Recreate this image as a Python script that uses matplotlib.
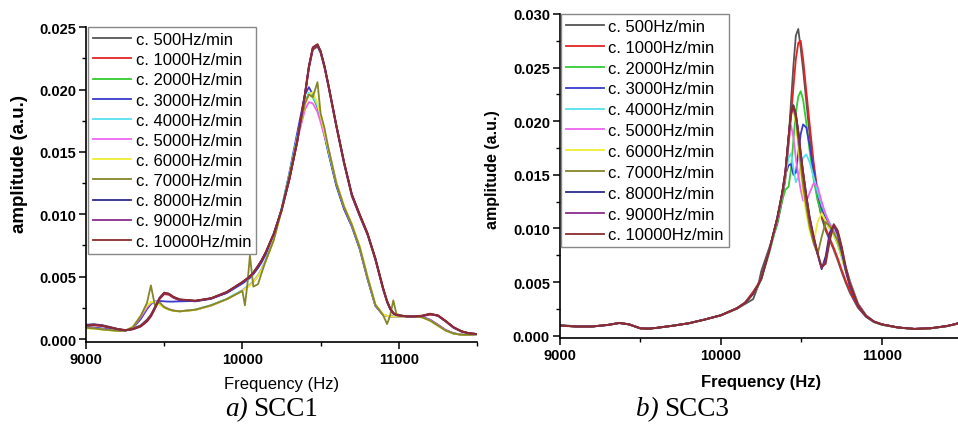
import matplotlib
matplotlib.use("Agg")
import matplotlib.pyplot as plt
from matplotlib.ticker import MultipleLocator, FormatStrFormatter

plt.rcParams['font.family'] = ['Liberation Sans', 'DejaVu Sans']

labels = ['c. 500Hz/min', 'c. 1000Hz/min', 'c. 2000Hz/min', 'c. 3000Hz/min',
          'c. 4000Hz/min', 'c. 5000Hz/min', 'c. 6000Hz/min', 'c. 7000Hz/min',
          'c. 8000Hz/min', 'c. 9000Hz/min', 'c. 10000Hz/min']
colors = ['#555555', '#e02424', '#33cc33', '#3a3ad0', '#55e0ee', '#ee66ee',
          '#eeee33', '#85852a', '#2c2c8c', '#8c2c8c', '#8c2c2c']

# ---- SCC1 (left), amplitude in 1e-3 a.u.
freq1 = [9000, 9050, 9100, 9150, 9200, 9250, 9300, 9350, 9390, 9415,
         9440, 9470, 9500, 9530, 9560, 9600, 9700, 9800, 9900, 10000,
         10016, 10032, 10048, 10070, 10100, 10123, 10150, 10200, 10250, 10300,
         10350, 10400, 10425, 10450, 10480, 10500, 10525, 10550, 10600, 10650,
         10700, 10750, 10800, 10850, 10900, 10925, 10945, 10965, 10985, 11050,
         11100, 11150, 11200, 11250, 11300, 11350, 11400, 11450, 11500]

scc1_500 = [1.15, 1.18, 1.12, 0.98, 0.82, 0.72, 0.82, 1.10, 1.55, 1.95,
            2.55, 3.25, 3.65, 3.58, 3.32, 3.12, 3.02, 3.22, 3.72, 4.52,
            4.68, 4.82, 4.98, 5.28, 5.82, 6.28, 6.92, 8.38, 10.28, 12.78,
            15.78, 19.55, 21.75, 23.20, 23.45, 22.95, 21.75, 20.25, 17.05, 14.05,
            11.45, 9.85, 8.35, 6.35, 3.95, 2.95, 2.38, 2.02, 1.88, 1.80,
            1.80, 1.83, 1.98, 1.88, 1.42, 0.92, 0.60, 0.45, 0.40]
scc1_1000 = [1.05, 1.10, 1.05, 0.92, 0.78, 0.70, 0.78, 1.00, 1.40, 1.80,
             2.40, 3.20, 3.60, 3.55, 3.30, 3.10, 3.05, 3.25, 3.70, 4.50,
             4.65, 4.80, 4.95, 5.25, 5.80, 6.25, 6.90, 8.35, 10.25, 12.75,
             15.75, 19.50, 21.70, 23.25, 23.60, 23.10, 21.90, 20.40, 17.20, 14.20,
             11.60, 10.00, 8.50, 6.50, 4.10, 3.05, 2.45, 2.10, 1.90, 1.80,
             1.80, 1.85, 1.95, 1.90, 1.45, 0.95, 0.62, 0.45, 0.40]
scc1_2000 = [0.90, 0.85, 0.78, 0.72, 0.66, 0.65, 0.95, 1.80, 2.60, 2.95,
             3.00, 2.80, 2.55, 2.38, 2.27, 2.22, 2.35, 2.70, 3.20, 3.90,
             4.05, 4.20, 4.35, 4.60, 5.10, 5.60, 6.30, 8.10, 10.40, 13.20,
             16.20, 18.90, 19.70, 19.40, 18.60, 17.70, 16.40, 15.00, 12.40, 10.50,
             9.10, 7.30, 4.90, 2.70, 1.95, 1.85, 1.80, 1.80, 1.80, 1.80,
             1.80, 1.75, 1.50, 1.10, 0.70, 0.45, 0.35, 0.33, 0.38]
scc1_3000 = [0.95, 0.92, 0.85, 0.78, 0.70, 0.66, 0.88, 1.60, 2.40, 2.80,
             3.00, 3.05, 3.02, 3.00, 3.00, 3.02, 3.05, 3.25, 3.70, 4.45,
             4.60, 4.75, 4.90, 5.20, 5.70, 6.15, 6.80, 8.30, 10.40, 13.30,
             16.50, 19.60, 20.20, 19.60, 18.60, 17.60, 16.30, 14.90, 12.30, 10.40,
             9.00, 7.20, 4.80, 2.65, 1.92, 1.84, 1.80, 1.80, 1.80, 1.80,
             1.80, 1.78, 1.55, 1.15, 0.72, 0.46, 0.35, 0.33, 0.38]
scc1_4000 = [0.88, 0.84, 0.77, 0.71, 0.66, 0.66, 0.98, 1.85, 2.62, 2.92,
             2.96, 2.78, 2.52, 2.36, 2.26, 2.22, 2.36, 2.72, 3.22, 3.92,
             4.08, 4.22, 4.38, 4.62, 5.12, 5.62, 6.35, 8.15, 10.45, 13.25,
             16.20, 18.95, 19.75, 19.50, 18.70, 17.80, 16.50, 15.10, 12.50, 10.60,
             9.15, 7.40, 5.00, 2.75, 1.96, 1.85, 1.80, 1.80, 1.80, 1.80,
             1.80, 1.74, 1.48, 1.08, 0.68, 0.44, 0.34, 0.33, 0.38]
scc1_5000 = [0.92, 0.86, 0.79, 0.73, 0.67, 0.64, 0.92, 1.75, 2.55, 2.90,
             2.98, 2.82, 2.58, 2.40, 2.28, 2.23, 2.34, 2.68, 3.18, 3.88,
             4.03, 4.18, 4.33, 4.58, 5.08, 5.58, 6.28, 8.05, 10.30, 13.00,
             15.90, 18.40, 19.00, 18.90, 18.20, 17.40, 16.30, 15.30, 12.60, 10.60,
             9.15, 7.35, 4.95, 2.72, 1.95, 1.85, 1.80, 1.80, 1.80, 1.80,
             1.80, 1.76, 1.52, 1.12, 0.71, 0.45, 0.35, 0.33, 0.38]
scc1_6000 = [0.86, 0.82, 0.76, 0.70, 0.65, 0.66, 1.00, 1.90, 2.68, 2.96,
             2.98, 2.76, 2.50, 2.34, 2.25, 2.21, 2.33, 2.68, 3.18, 3.86,
             4.00, 4.15, 4.30, 4.55, 5.05, 5.55, 6.22, 7.95, 10.20, 13.00,
             16.00, 18.80, 19.60, 19.80, 18.90, 17.90, 16.60, 15.20, 12.60, 10.70,
             9.25, 7.45, 5.05, 2.80, 1.98, 1.86, 1.80, 1.80, 1.80, 1.80,
             1.80, 1.72, 1.45, 1.05, 0.66, 0.43, 0.34, 0.33, 0.38]
scc1_7000 = [0.90, 0.86, 0.78, 0.72, 0.66, 0.65, 0.95, 1.85, 2.90, 4.30,
             2.70, 2.95, 2.55, 2.38, 2.27, 2.22, 2.35, 2.70, 3.20, 3.85,
             2.70, 4.40, 6.70, 4.20, 4.40, 5.30, 6.30, 7.90, 10.30, 13.10,
             16.00, 18.90, 19.60, 19.40, 20.60, 18.10, 16.90, 15.30, 12.50, 10.60,
             9.15, 7.35, 4.95, 2.75, 1.90, 1.20, 1.90, 3.10, 2.00, 1.80,
             1.80, 1.74, 1.48, 1.08, 0.68, 0.44, 0.34, 0.33, 0.38]
scc1_8000 = [1.12, 1.16, 1.08, 0.93, 0.79, 0.69, 0.79, 1.02, 1.45, 1.85,
             2.45, 3.25, 3.68, 3.62, 3.36, 3.16, 3.06, 3.26, 3.76, 4.56,
             4.72, 4.86, 5.02, 5.32, 5.86, 6.32, 6.98, 8.42, 10.35, 12.85,
             15.85, 19.65, 21.85, 23.35, 23.60, 23.05, 21.85, 20.35, 17.15, 14.15,
             11.55, 9.95, 8.45, 6.45, 4.05, 3.02, 2.42, 2.08, 1.92, 1.82,
             1.80, 1.86, 2.02, 1.88, 1.42, 0.92, 0.62, 0.46, 0.40]
scc1_9000 = [1.10, 1.15, 1.10, 0.95, 0.80, 0.70, 0.80, 1.05, 1.50, 1.90,
             2.50, 3.30, 3.70, 3.60, 3.35, 3.15, 3.05, 3.25, 3.75, 4.55,
             4.70, 4.85, 5.00, 5.30, 5.85, 6.30, 6.95, 8.40, 10.30, 12.80,
             15.80, 19.60, 21.80, 23.30, 23.55, 23.00, 21.80, 20.30, 17.10, 14.10,
             11.50, 9.90, 8.40, 6.40, 4.00, 3.00, 2.40, 2.05, 1.90, 1.80,
             1.80, 1.85, 2.00, 1.85, 1.40, 0.90, 0.60, 0.45, 0.40]
scc1_10000 = [1.08, 1.12, 1.06, 0.94, 0.80, 0.71, 0.80, 1.04, 1.48, 1.88,
              2.48, 3.28, 3.72, 3.64, 3.38, 3.18, 3.08, 3.28, 3.78, 4.58,
              4.73, 4.88, 5.03, 5.33, 5.88, 6.33, 6.98, 8.45, 10.35, 12.85,
              15.85, 19.70, 21.90, 23.40, 23.65, 23.10, 21.90, 20.40, 17.20, 14.20,
              11.60, 10.00, 8.45, 6.45, 4.05, 3.05, 2.45, 2.08, 1.92, 1.82,
              1.82, 1.88, 2.03, 1.90, 1.45, 0.95, 0.63, 0.46, 0.40]

# ---- SCC3 (right), amplitude in 1e-3 a.u.
freq3 = [9000, 9100, 9200, 9300, 9370, 9430, 9500, 9550, 9600, 9700,
         9800, 9900, 10000, 10100, 10150, 10200, 10230, 10250, 10300, 10350,
         10380, 10400, 10420, 10435, 10450, 10465, 10480, 10495, 10510, 10530,
         10550, 10575, 10600, 10625, 10650, 10675, 10700, 10725, 10750, 10775,
         10800, 10850, 10900, 10950, 11000, 11100, 11200, 11300, 11400, 11450,
         11500]

scc3_500 = [0.98, 0.88, 0.84, 1.00, 1.20, 1.06, 0.70, 0.64, 0.72, 0.93,
            1.16, 1.50, 1.88, 2.50, 2.95, 3.40, 4.60, 6.00, 8.20, 10.40,
            12.60, 14.60, 18.30, 21.80, 25.20, 28.00, 28.60, 26.80, 24.80, 21.80,
            18.80, 15.40, 12.80, 11.00, 9.80, 8.90, 8.00, 7.00, 5.90, 4.90,
            4.00, 2.60, 1.75, 1.25, 1.00, 0.74, 0.62, 0.68, 0.88, 1.05,
            1.28]
scc3_1000 = [0.93, 0.84, 0.86, 1.01, 1.17, 1.04, 0.67, 0.66, 0.73, 0.92,
             1.14, 1.50, 1.90, 2.58, 3.10, 4.10, 4.80, 5.40, 7.90, 10.80,
             13.00, 15.00, 17.80, 20.40, 23.20, 25.80, 27.30, 27.50, 25.80, 22.80,
             19.80, 16.20, 13.40, 11.40, 10.00, 9.10, 8.20, 7.20, 6.10, 5.10,
             4.20, 2.70, 1.80, 1.30, 1.05, 0.76, 0.63, 0.69, 0.89, 1.06,
             1.30]
scc3_2000 = [0.94, 0.85, 0.85, 1.00, 1.18, 1.05, 0.68, 0.65, 0.72, 0.92,
             1.15, 1.50, 1.90, 2.55, 3.05, 3.90, 4.60, 5.20, 7.70, 10.60,
             12.60, 13.60, 13.90, 15.50, 18.30, 20.80, 22.30, 22.80, 22.00, 19.80,
             17.30, 14.60, 12.60, 11.40, 10.60, 10.00, 9.40, 8.50, 7.30, 6.00,
             4.80, 2.90, 1.85, 1.28, 1.02, 0.75, 0.62, 0.68, 0.88, 1.05,
             1.27]
scc3_3000 = [0.96, 0.86, 0.85, 0.99, 1.17, 1.05, 0.69, 0.65, 0.72, 0.92,
             1.15, 1.50, 1.90, 2.55, 3.05, 3.95, 4.70, 5.30, 7.90, 10.90,
             13.10, 15.00, 15.90, 16.00, 15.00, 15.20, 17.00, 18.80, 19.70, 19.40,
             17.80, 15.40, 13.30, 11.90, 11.00, 10.30, 9.70, 8.80, 7.60, 6.30,
             5.10, 3.00, 1.90, 1.30, 1.03, 0.75, 0.62, 0.68, 0.88, 1.05,
             1.27]
scc3_4000 = [0.95, 0.85, 0.84, 1.00, 1.18, 1.05, 0.68, 0.65, 0.72, 0.92,
             1.15, 1.50, 1.90, 2.55, 3.05, 3.92, 4.68, 5.28, 7.90, 10.90,
             13.10, 15.00, 16.60, 17.00, 15.60, 14.30, 14.80, 15.80, 16.60, 16.90,
             16.20, 14.80, 13.40, 12.20, 11.30, 10.50, 9.80, 8.90, 7.70, 6.40,
             5.10, 3.00, 1.90, 1.30, 1.03, 0.75, 0.62, 0.68, 0.88, 1.05,
             1.27]
scc3_5000 = [0.95, 0.85, 0.85, 1.00, 1.18, 1.05, 0.68, 0.65, 0.72, 0.92,
             1.15, 1.50, 1.90, 2.55, 3.05, 3.92, 4.70, 5.30, 7.90, 10.90,
             13.10, 15.00, 18.30, 19.60, 18.50, 16.50, 15.00, 13.60, 12.60, 12.50,
             13.30, 14.20, 13.90, 12.50, 11.30, 10.40, 9.70, 8.80, 7.60, 6.30,
             5.00, 3.00, 1.90, 1.30, 1.03, 0.75, 0.62, 0.68, 0.88, 1.05,
             1.27]
scc3_6000 = [0.95, 0.85, 0.85, 1.00, 1.18, 1.05, 0.68, 0.65, 0.72, 0.92,
             1.15, 1.50, 1.90, 2.55, 3.05, 3.92, 4.70, 5.30, 7.95, 11.00,
             13.20, 15.20, 18.40, 20.50, 21.00, 19.80, 17.60, 15.30, 13.30, 11.40,
             9.80, 8.70, 10.60, 11.40, 10.70, 10.00, 9.40, 8.60, 7.40, 6.10,
             4.90, 2.90, 1.85, 1.28, 1.02, 0.75, 0.62, 0.68, 0.88, 1.05,
             1.27]
scc3_7000 = [0.95, 0.85, 0.85, 1.00, 1.18, 1.05, 0.68, 0.65, 0.72, 0.92,
             1.15, 1.50, 1.90, 2.55, 3.05, 3.92, 4.70, 5.30, 7.95, 11.00,
             13.20, 15.20, 18.60, 20.80, 21.20, 20.20, 18.20, 16.00, 14.00, 12.00,
             10.20, 8.60, 7.60, 9.20, 10.60, 10.20, 9.60, 8.80, 7.60, 6.20,
             5.00, 2.90, 1.85, 1.28, 1.02, 0.75, 0.62, 0.68, 0.88, 1.05,
             1.27]
scc3_8000 = [0.95, 0.85, 0.85, 1.00, 1.18, 1.05, 0.68, 0.65, 0.72, 0.92,
             1.15, 1.50, 1.90, 2.55, 3.05, 3.92, 4.70, 5.30, 7.95, 11.00,
             13.30, 15.30, 18.50, 20.80, 21.50, 20.60, 19.00, 17.00, 15.20, 13.00,
             11.00, 9.20, 7.60, 6.20, 7.40, 9.60, 10.30, 9.40, 7.90, 6.00,
             4.60, 2.80, 1.80, 1.30, 1.05, 0.76, 0.63, 0.69, 0.89, 1.06,
             1.28]
scc3_9000 = [0.95, 0.85, 0.85, 1.00, 1.18, 1.05, 0.68, 0.65, 0.72, 0.92,
             1.15, 1.50, 1.90, 2.55, 3.05, 3.92, 4.70, 5.30, 7.95, 11.00,
             13.25, 15.25, 18.40, 20.60, 21.30, 20.50, 18.90, 16.90, 15.10, 12.90,
             10.90, 9.10, 7.60, 6.30, 7.00, 9.20, 10.30, 9.60, 8.10, 6.20,
             4.70, 2.85, 1.82, 1.30, 1.04, 0.76, 0.63, 0.69, 0.89, 1.06,
             1.28]
scc3_10000 = [0.95, 0.85, 0.85, 1.00, 1.18, 1.05, 0.68, 0.65, 0.72, 0.92,
              1.15, 1.50, 1.90, 2.55, 3.05, 3.92, 4.70, 5.30, 7.95, 11.00,
              13.30, 15.30, 18.60, 20.90, 21.40, 20.70, 19.10, 17.10, 15.30, 13.10,
              11.10, 9.30, 7.70, 6.40, 6.70, 8.80, 10.40, 9.80, 8.30, 6.40,
              4.90, 2.90, 1.85, 1.32, 1.05, 0.76, 0.63, 0.69, 0.89, 1.06,
              1.28]

left_series = [scc1_500, scc1_1000, scc1_2000, scc1_3000, scc1_4000, scc1_5000,
               scc1_6000, scc1_7000, scc1_8000, scc1_9000, scc1_10000]
right_series = [scc3_500, scc3_1000, scc3_2000, scc3_3000, scc3_4000, scc3_5000,
                scc3_6000, scc3_7000, scc3_8000, scc3_9000, scc3_10000]

W, H = 958, 427
fig = plt.figure(figsize=(W / 100, H / 100), dpi=100)
fig.patch.set_facecolor('white')


def px(x, y):
    # pixel (from top-left) -> figure fraction
    return x / W, 1 - y / H


def style_axes(ax, ylim, ymajor):
    ax.set_xlim(9000, 11500)
    ax.set_ylim(*ylim)
    for s in ['top', 'right']:
        ax.spines[s].set_visible(False)
    for s in ['left', 'bottom']:
        ax.spines[s].set_linewidth(1.2)
    ax.xaxis.set_major_locator(MultipleLocator(1000))
    ax.xaxis.set_minor_locator(MultipleLocator(500))
    ax.yaxis.set_major_locator(MultipleLocator(ymajor))
    ax.yaxis.set_minor_locator(MultipleLocator(ymajor / 2))
    ax.yaxis.set_major_formatter(FormatStrFormatter('%.3f'))
    ax.tick_params(which='major', direction='out', length=5, width=1.1, pad=2,
                   labelsize=10.5)
    ax.tick_params(which='minor', direction='out', length=3, width=1.0)
    for t in ax.get_xticklabels() + ax.get_yticklabels():
        t.set_fontweight('bold')


def draw(ax, freq, series, legend_xy, spacing):
    handles = []
    for vals, lab, c in zip(series, labels, colors):
        h, = ax.plot(freq, [v * 1e-3 for v in vals], color=c, lw=1.3, label=lab)
        handles.append(h)
    leg = ax.legend(handles=handles, loc='upper left',
                    bbox_to_anchor=px(*legend_xy), bbox_transform=fig.transFigure,
                    fontsize=12, handlelength=2.3, handletextpad=0.25,
                    labelspacing=spacing, borderpad=0.3, borderaxespad=0,
                    fancybox=False, framealpha=1, edgecolor='#888888')
    leg.get_frame().set_linewidth(1.0)


# left panel
x0, y0 = px(86, 343)
ax1 = fig.add_axes([x0, y0, (477 - 86) / W, (343 - 28.3) / H])
draw(ax1, freq1, left_series, (88, 28), 0.31)
style_axes(ax1, (-0.00024, 0.025), 0.005)

# right panel
x0, y0 = px(559.7, 339.3)
ax2 = fig.add_axes([x0, y0, 403 / W, (339.3 - 15) / H])
draw(ax2, freq3, right_series, (561, 15), 0.35)
style_axes(ax2, (-0.00025, 0.030), 0.005)

# axis labels
fig.text(*px(282, 385), 'Frequency (Hz)', ha='center', va='center', fontsize=12)
fig.text(*px(761, 383), 'Frequency (Hz)', ha='center', va='center', fontsize=12,
         fontweight='bold')
fig.text(*px(20, 164), 'amplitude (a.u.)', ha='center', va='center', fontsize=13.5,
         fontweight='bold', rotation=90)
fig.text(*px(493, 170), 'amplitude (a.u.)', ha='center', va='center', fontsize=11.5,
         fontweight='bold', rotation=90)

# captions
serif = ['Liberation Serif', 'DejaVu Serif']
fig.text(*px(248, 410), 'a)', ha='right', va='center', fontsize=19.5,
         family=serif, style='italic')
fig.text(*px(253, 410), 'SCC1', ha='left', va='center', fontsize=19.5, family=serif)
fig.text(*px(659, 410), 'b)', ha='right', va='center', fontsize=19.5,
         family=serif, style='italic')
fig.text(*px(664, 410), 'SCC3', ha='left', va='center', fontsize=19.5, family=serif)

fig.savefig('out.png', dpi=100)
